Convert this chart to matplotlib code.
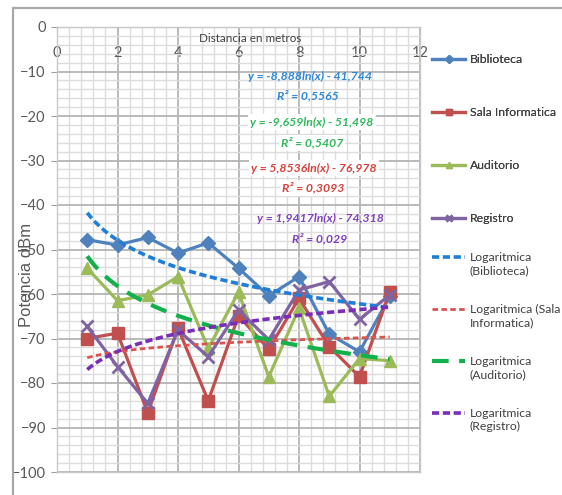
import numpy as np
import matplotlib
matplotlib.use('Agg')
import matplotlib.pyplot as plt
from matplotlib import font_manager
from matplotlib.lines import Line2D
from matplotlib.patches import Rectangle
from matplotlib.ticker import MultipleLocator
from matplotlib.legend_handler import HandlerLine2D

# medidas (dBm) por distancia
Distancia = [1, 2, 3, 4, 5, 6, 7, 8, 9, 10, 11]
Biblioteca = [-47.8, -49.0, -47.3, -50.8, -48.5, -54.2, -60.4, -56.1, -69.0, -73.0, -60.5]
SalaInformatica = [-70.0, -68.8, -86.7, -67.7, -84.0, -64.9, -72.4, -61.0, -71.8, -78.6, -59.5]
Auditorio = [-54.2, -61.5, -60.2, -56.1, -72.2, -59.6, -78.6, -63.2, -83.0, -74.5, -75.0]
Registro = [-67.3, -76.3, -84.6, -68.1, -74.1, -63.6, -70.3, -59.1, -57.2, -65.7, -60.2]

Nombres = ['Biblioteca', 'Sala Informatica', 'Auditorio', 'Registro']
TrendNombres = ['Logaritmica\n(Biblioteca)', 'Logaritmica (Sala\nInformatica)',
                'Logaritmica\n(Auditorio)', 'Logaritmica\n(Registro)']
# coeficientes de las lineas de tendencia tal como se dibujan: y = a*ln(x) + b
TrendA = [-8.888, 1.9417, -9.659, 5.8536]
TrendB = [-41.744, -74.318, -51.498, -76.978]
Ecuaciones = ['y = -8,888ln(x) - 41,744', 'y = -9,659ln(x) - 51,498',
              'y = 5,8536ln(x) - 76,978', 'y = 1,9417ln(x) - 74,318']
R2 = ['R² = 0,5565', 'R² = 0,5407', 'R² = 0,3093', 'R² = 0,029']

Colores = ['#4F81BD', '#C0504D', '#9BBB59', '#8064A2']
Marcadores = ['D', 's', '^', 'x']
TamMarc = [7, 8, 8, 8]
TrendColores = ['#1F7ED6', '#D9544F', '#12B14C', '#7A2DB8']
TrendLw = [2.6, 2.0, 3.0, 2.6]
TrendDash = [(2.0, 1.0), (2.0, 1.2), (4.0, 2.5), (2.0, 1.0)]
EcColores = ['#2E86D6', '#2DB85A', '#D8403A', '#8040C0']


def hay(nombre):
    try:
        font_manager.findfont(font_manager.FontProperties(family=nombre), fallback_to_default=False)
        return True
    except ValueError:
        return False


# fuente estrecha tipo Calibri si existe, si no Lato un poco mas chica
if hay('Liberation Sans Narrow'):
    Fuente, k = 'Liberation Sans Narrow', 1.0
else:
    Fuente, k = 'Lato', 0.88
plt.rcParams['font.family'] = [Fuente, 'DejaVu Sans']

W, H = 562, 495
fig = plt.figure(figsize=(W / 100, H / 100), dpi=100)
ax = fig.add_axes([57 / W, 1 - 472 / H, (420 - 57) / W, (472 - 27) / H])

# marco exterior del grafico
fig.patches.append(Rectangle((13 / W, -0.2), 1.2, 1.2 - 8 / H, transform=fig.transFigure,
                             fill=False, ec='#A8A8A8', lw=1.6))

ax.set_xlim(0, 12)
ax.set_ylim(-100, 0)
ax.xaxis.set_major_locator(MultipleLocator(2))
ax.xaxis.set_minor_locator(MultipleLocator(0.4))
ax.yaxis.set_major_locator(MultipleLocator(10))
ax.yaxis.set_minor_locator(MultipleLocator(2))
ax.grid(which='major', color='#B4B4B4', lw=1.3)
ax.grid(which='minor', color='#DCDCDC', lw=1.0)
ax.set_axisbelow(True)
for s in ax.spines.values():
    s.set_color('#C8C8C8')
    s.set_linewidth(1.0)

ax.xaxis.set_ticks_position('top')
ax.tick_params(axis='x', which='both', length=0, pad=-24, labelsize=10.5, labelcolor='#595959')
ax.tick_params(axis='y', which='major', length=4, color='#A0A0A0', pad=4, labelsize=10.5,
               labelcolor='#595959')
ax.tick_params(axis='y', which='minor', length=0)

Datos = [Biblioteca, SalaInformatica, Auditorio, Registro]
series = []
for i in range(4):
    l, = ax.plot(Distancia, Datos[i], color=Colores[i], lw=2.3, marker=Marcadores[i],
                 ms=TamMarc[i], mew=2 if Marcadores[i] == 'x' else 1, label=Nombres[i], zorder=3)
    series.append(l)

xs = np.linspace(min(Distancia), max(Distancia), 200)
trends = []
for i in range(4):
    t, = ax.plot(xs, TrendA[i] * np.log(xs) + TrendB[i], color=TrendColores[i], lw=TrendLw[i],
                 dashes=TrendDash[i], label=TrendNombres[i], zorder=4)
    trends.append(t)

# ecuaciones
posEc = [(310, 76), (312, 122), (314, 168), (320, 218)]
posR2 = [(308, 96), (312, 143), (313, 188), (320, 239)]
for i in range(4):
    bb = dict(fc='white', ec='none', pad=1.5) if i in (1, 2) else None
    fig.text(posEc[i][0] / W, 1 - posEc[i][1] / H, Ecuaciones[i], color=EcColores[i],
             fontsize=10 * k, fontweight='bold', style='italic', ha='center', va='center', bbox=bb)
    fig.text(posR2[i][0] / W, 1 - posR2[i][1] / H, R2[i], color=EcColores[i],
             fontsize=10 * k, fontweight='bold', style='italic', ha='center', va='center', bbox=bb)

fig.text(250 / W, 1 - 38 / H, 'Distancia en metros', fontsize=9.5 * k, color='#404040',
         ha='center', va='center')
fig.text(27 / W, 1 - 275 / H, 'Potencia dBm', fontsize=12, color='#595959', rotation=90,
         ha='center', va='center', family=['Liberation Sans', 'DejaVu Sans'])

LF = 10 * k          # tamano de letra de la leyenda (pt)
LFpx = LF * 100 / 72  # en pixeles


def subir(handle, orig):
    handle.update_from(orig)
    handle.set_ydata(np.asarray(handle.get_ydata()) + 0.6 * LF)


leg1 = fig.legend(handles=series, loc='upper left', bbox_to_anchor=(432 / W, 1 - 54 / H),
                  frameon=False, borderpad=0, borderaxespad=0, fontsize=LF, handlelength=33 / LFpx,
                  handletextpad=5 / LFpx, labelspacing=(52.7 - 0.88 * LFpx) / LFpx,
                  markerscale=0.55, labelcolor='#404040')
leg2 = fig.legend(handles=trends, loc='upper left', bbox_to_anchor=(432 / W, 1 - 252 / H),
                  frameon=False, borderpad=0, borderaxespad=0, fontsize=LF, handlelength=33 / LFpx,
                  handletextpad=5 / LFpx, labelspacing=(51.5 - 1.9 * LFpx) / LFpx,
                  labelcolor='#404040', handler_map={Line2D: HandlerLine2D(update_func=subir)})
fig.add_artist(leg1)

fig.savefig('out.png', dpi=100)
